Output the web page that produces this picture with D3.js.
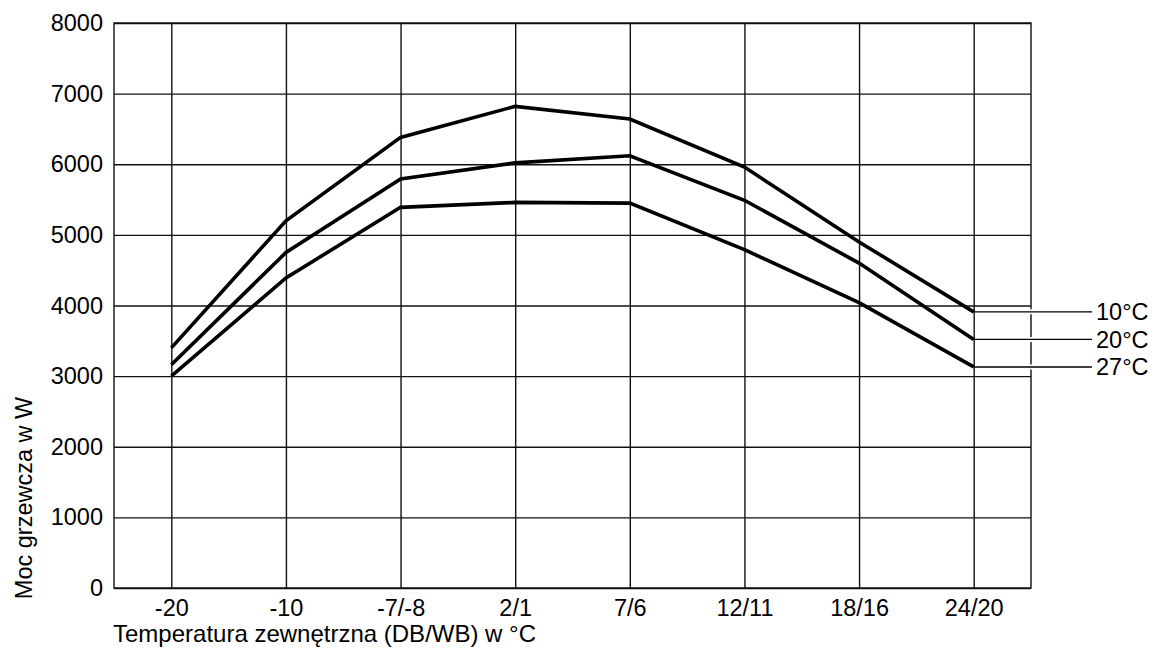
<!DOCTYPE html>
<html>
<head>
<meta charset="utf-8">
<script src="https://cdn.jsdelivr.net/npm/d3@7"></script>
<style>
  body { margin: 0; background: #fff; }
  svg { display: block; font-family: "Liberation Sans", Arial, sans-serif; }
</style>
</head>
<body>
<div id="container"></div>
<script>
"use strict";

const categories = ["-20", "-10", "-7/-8", "2/1", "7/6", "12/11", "18/16", "24/20"];
const series10 = [3400, 5200, 6380, 6820, 6640, 5960, 4900, 3910];
const series20 = [3160, 4750, 5790, 6020, 6120, 5490, 4600, 3520];
const series27 = [3000, 4390, 5390, 5460, 5450, 4790, 4040, 3130];
const seriesLabels = ["10°C", "20°C", "27°C"];
const yTicks = [0, 1000, 2000, 3000, 4000, 5000, 6000, 7000, 8000];

const width = 1153;
const height = 650;
const fontSize = 23.5;
const margin = { top: 23, right: 122, bottom: 62, left: 114 };
const x0 = margin.left, x1 = width - margin.right;
const y0 = height - margin.bottom, y1 = margin.top;

const xScale = d3.scalePoint().domain(categories).range([x0, x1]).padding(0.5);
const yScale = d3.scaleLinear().domain([0, 8000]).range([y0, y1]);

const svg = d3.create("svg").attr("width", width).attr("height", height);

// Horizontal grid + y labels
svg.append("g")
  .attr("transform", `translate(${x0}, 0)`)
  .call(d3.axisLeft(yScale).tickValues(yTicks).tickSize(-(x1 - x0)).tickPadding(11).tickFormat(d3.format("d")))
  .call((g) => g.select(".domain").remove())
  .call((g) => g.selectAll("line").attr("stroke", "#111").attr("stroke-width", 1.4))
  .call((g) => g.selectAll("text").style("font-size", `${fontSize}px`).attr("fill", "#000"));

// Vertical grid + x labels
svg.append("g")
  .attr("transform", `translate(0, ${y0})`)
  .call(d3.axisBottom(xScale).tickSize(-(y0 - y1)).tickPadding(11))
  .call((g) => g.select(".domain").remove())
  .call((g) => g.selectAll("line").attr("stroke", "#111").attr("stroke-width", 1.4))
  .call((g) => g.selectAll("text").style("font-size", `${fontSize}px`).attr("fill", "#000"));

// Plot frame
svg.append("rect")
  .attr("x", x0).attr("y", y1)
  .attr("width", x1 - x0).attr("height", y0 - y1)
  .attr("fill", "none").attr("stroke", "#111").attr("stroke-width", 1.4);

const all = [series10, series20, series27];
const line = d3.line()
  .x((d, i) => xScale(categories[i]))
  .y((d) => yScale(d));

svg.append("g")
  .selectAll("path")
  .data(all)
  .enter()
  .append("path")
  .attr("d", line)
  .attr("fill", "none")
  .attr("stroke", "#000")
  .attr("stroke-width", 3.6)
  .attr("stroke-linejoin", "miter");

// Leader lines with labels
const last = categories[categories.length - 1];
const leaderEnd = 1092;
const labels = svg.append("g");
all.forEach((s, i) => {
  const yy = yScale(s[s.length - 1]);
  labels.append("line")
    .attr("x1", xScale(last) + 4).attr("x2", leaderEnd)
    .attr("y1", yy).attr("y2", yy)
    .attr("stroke", "#fff").attr("stroke-width", 5);
  labels.append("line")
    .attr("x1", xScale(last)).attr("x2", leaderEnd)
    .attr("y1", yy).attr("y2", yy)
    .attr("stroke", "#000").attr("stroke-width", 1.4);
  labels.append("text")
    .attr("x", leaderEnd + 4).attr("y", yy)
    .attr("dy", "0.35em")
    .style("font-size", `${fontSize}px`)
    .text(seriesLabels[i]);
});

// Axis titles
svg.append("text")
  .attr("x", 113).attr("y", 642)
  .style("font-size", "24px")
  .text("Temperatura zewnętrzna (DB/WB) w °C");

svg.append("text")
  .attr("transform", "translate(32, 498) rotate(-90)")
  .attr("text-anchor", "middle")
  .style("font-size", `${fontSize}px`)
  .text("Moc grzewcza w W");

d3.select("#container").append(() => svg.node());
</script>
</body>
</html>
